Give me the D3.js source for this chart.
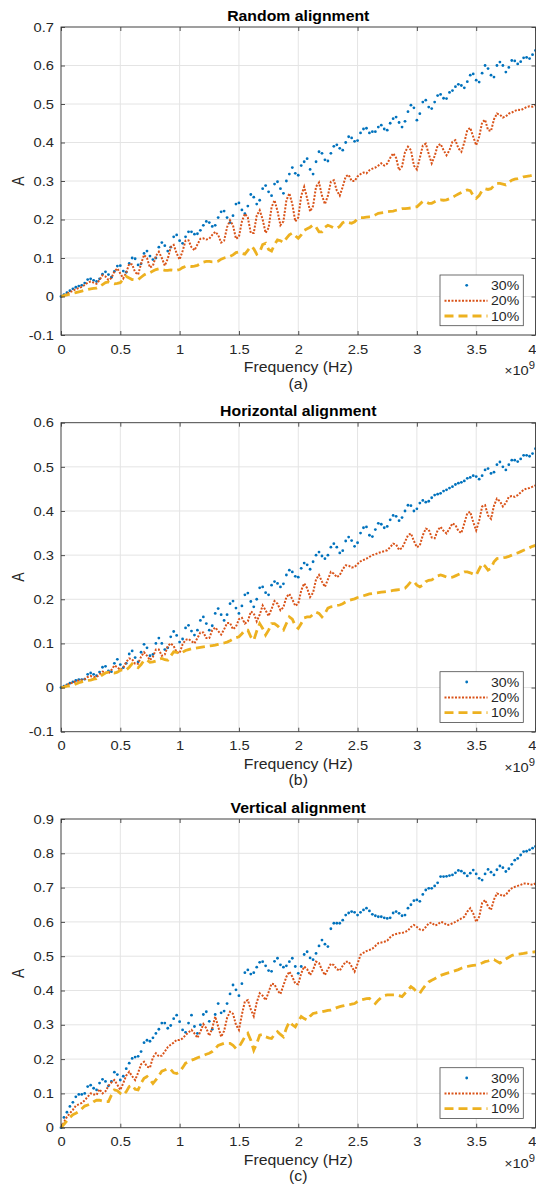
<!DOCTYPE html>
<html><head><meta charset="utf-8">
<script src="https://cdn.jsdelivr.net/npm/d3@7"></script>
<style>body{margin:0;background:#fff}svg{display:block}text{font-family:"Liberation Sans",Arial,Helvetica,sans-serif}</style>
</head><body><svg id="chart" width="536" height="1186"></svg>
<script>
// ---- data (frequency in units of 1e9 Hz, sampled every freqStep) ----
const freqStep = 0.025;
const xTicks = [0,0.5,1,1.5,2,2.5,3,3.5,4];
const yTicksA = [-0.1,0,0.1,0.2,0.3,0.4,0.5,0.6,0.7];
const yTicksB = [-0.1,0,0.1,0.2,0.3,0.4,0.5,0.6];
const yTicksC = [0,0.1,0.2,0.3,0.4,0.5,0.6,0.7,0.8,0.9];
const seriesNames = ["30%","20%","10%"];

const random30 = [0,.005,.010,.015,.020,.024,.027,.029,.035,.044,
.046,.042,.039,.046,.058,.064,.057,.050,.065,.079,
.080,.066,.063,.086,.100,.098,.082,.085,.112,.118,
.105,.096,.100,.128,.140,.132,.118,.128,.155,.160,
.145,.138,.155,.168,.168,.162,.163,.172,.185,.195,
.192,.182,.185,.205,.220,.222,.205,.192,.210,.240,
.243,.225,.215,.235,.265,.258,.240,.250,.280,.288,
.272,.262,.292,.298,.280,.268,.300,.318,.335,.320,
.315,.340,.350,.358,.330,.318,.350,.376,.372,.355,
.352,.372,.390,.394,.385,.380,.400,.415,.412,.403,
.405,.425,.435,.437,.425,.428,.428,.440,.445,.435,
.432,.450,.462,.466,.452,.440,.455,.480,.497,.490,
.458,.475,.505,.510,.492,.488,.505,.522,.525,.515,
.514,.530,.535,.545,.551,.548,.542,.558,.575,.578,
.562,.557,.580,.600,.592,.575,.570,.600,.609,.600,
.583,.595,.613,.612,.604,.610,.620,.621,.618,.628,
.639];
const random20 = [0,.003,.007,.011,.015,.019,.022,.025,.030,.036,
.039,.036,.033,.043,.055,.052,.043,.048,.065,.073,
.060,.047,.062,.085,.083,.063,.057,.085,.108,.100,
.075,.080,.105,.116,.100,.080,.098,.128,.134,.112,
.096,.118,.145,.146,.128,.120,.135,.150,.151,.148,
.150,.160,.168,.160,.140,.145,.180,.198,.185,.150,
.155,.195,.215,.205,.165,.165,.210,.224,.200,.165,
.178,.232,.250,.222,.185,.195,.250,.268,.240,.195,
.205,.262,.285,.255,.221,.235,.285,.296,.262,.240,
.262,.298,.302,.275,.262,.285,.312,.316,.300,.300,
.312,.318,.322,.320,.328,.332,.335,.340,.346,.340,
.345,.360,.372,.360,.328,.338,.375,.389,.380,.340,
.330,.360,.392,.397,.370,.346,.365,.392,.396,.380,
.367,.380,.402,.406,.385,.376,.400,.432,.438,.415,
.393,.415,.452,.459,.432,.430,.460,.475,.472,.465,
.468,.475,.478,.482,.485,.484,.488,.492,.494,.493,
.497];
const random10 = [0,.002,.004,.006,.008,.010,.012,.014,.016,.018,
.020,.021,.022,.026,.031,.036,.038,.035,.033,.034,
.036,.045,.052,.048,.044,.043,.044,.050,.056,.060,
.062,.066,.070,.072,.070,.068,.068,.069,.068,.068,
.070,.075,.078,.079,.078,.079,.081,.085,.089,.091,
.091,.090,.090,.092,.097,.100,.102,.104,.108,.114,
.116,.112,.110,.120,.130,.124,.110,.115,.135,.138,
.122,.118,.135,.147,.145,.140,.151,.160,.165,.158,
.151,.160,.172,.176,.180,.186,.180,.168,.168,.180,
.185,.182,.178,.177,.182,.192,.195,.192,.190,.194,
.202,.205,.205,.206,.207,.208,.212,.216,.217,.218,
.220,.221,.222,.224,.226,.228,.228,.229,.230,.232,
.233,.240,.247,.246,.242,.242,.246,.250,.251,.250,
.251,.254,.258,.262,.266,.270,.274,.277,.275,.262,
.255,.262,.275,.280,.278,.280,.288,.294,.294,.292,
.290,.296,.302,.305,.306,.308,.311,.312,.313,.315,
.316];

const horiz30 = [0,.003,.006,.010,.013,.016,.018,.018,.019,.030,
.033,.030,.027,.035,.046,.048,.038,.036,.055,.064,
.052,.045,.055,.076,.083,.068,.058,.080,.098,.090,
.072,.075,.100,.112,.100,.086,.090,.115,.127,.118,
.103,.110,.135,.141,.128,.119,.130,.152,.160,.145,
.130,.140,.168,.179,.165,.152,.165,.190,.196,.180,
.168,.185,.210,.214,.195,.183,.200,.226,.228,.215,
.210,.232,.240,.236,.228,.235,.255,.266,.262,.252,
.250,.270,.282,.278,.268,.285,.300,.307,.298,.292,
.300,.318,.326,.318,.305,.310,.332,.341,.333,.320,
.328,.350,.362,.364,.345,.342,.358,.372,.370,.362,
.365,.380,.390,.388,.378,.385,.400,.413,.412,.400,
.405,.418,.424,.420,.422,.430,.436,.438,.440,.445,
.448,.452,.455,.460,.463,.465,.468,.474,.476,.480,
.478,.472,.480,.493,.496,.485,.488,.505,.511,.500,
.493,.505,.515,.515,.512,.518,.526,.526,.524,.530,
.541];
const horiz20 = [0,.003,.006,.009,.011,.014,.016,.017,.019,.024,
.026,.024,.024,.030,.036,.034,.032,.040,.050,.046,
.040,.045,.058,.066,.064,.054,.054,.070,.080,.072,
.062,.070,.086,.086,.072,.075,.094,.100,.094,.080,
.078,.098,.108,.110,.105,.100,.112,.125,.125,.112,
.112,.130,.136,.128,.120,.132,.146,.146,.132,.138,
.155,.158,.145,.150,.172,.168,.150,.165,.186,.175,
.162,.178,.196,.190,.175,.182,.205,.212,.200,.185,
.190,.220,.236,.225,.205,.215,.245,.255,.240,.228,
.245,.262,.258,.250,.255,.268,.277,.276,.272,.273,
.280,.286,.289,.292,.296,.300,.302,.305,.307,.309,
.311,.318,.326,.324,.312,.316,.330,.345,.349,.332,
.318,.322,.345,.360,.358,.340,.338,.356,.364,.355,
.349,.360,.372,.368,.355,.350,.372,.395,.398,.375,
.356,.378,.410,.413,.390,.382,.412,.428,.422,.410,
.418,.432,.434,.432,.436,.442,.448,.451,.452,.455,
.458];
const horiz10 = [0,.001,.003,.004,.005,.008,.011,.013,.015,.016,
.017,.019,.020,.024,.029,.033,.035,.034,.033,.035,
.039,.041,.040,.046,.054,.050,.045,.052,.062,.062,
.057,.058,.060,.064,.066,.063,.062,.072,.081,.080,
.077,.080,.084,.086,.088,.089,.090,.091,.092,.093,
.094,.095,.096,.098,.100,.101,.103,.106,.110,.113,
.115,.122,.130,.130,.115,.107,.128,.145,.134,.119,
.130,.145,.145,.140,.133,.130,.145,.160,.155,.140,
.134,.145,.158,.160,.160,.166,.171,.168,.160,.168,
.180,.183,.184,.186,.187,.190,.194,.197,.199,.201,
.204,.206,.208,.210,.212,.213,.214,.215,.216,.217,
.218,.219,.220,.221,.222,.223,.225,.232,.240,.240,
.232,.228,.232,.240,.243,.244,.248,.253,.255,.253,
.250,.249,.250,.253,.256,.259,.262,.262,.260,.257,
.255,.268,.281,.275,.266,.270,.285,.292,.293,.294,
.295,.297,.300,.303,.305,.308,.311,.314,.317,.320,
.322];

const vert30 = [0,.030,.045,.062,.074,.090,.097,.097,.100,.120,
.124,.115,.110,.130,.141,.135,.122,.135,.162,.155,
.139,.150,.172,.188,.202,.206,.208,.222,.248,.255,
.252,.262,.275,.287,.305,.305,.290,.298,.318,.328,
.309,.285,.278,.305,.328,.295,.275,.300,.330,.338,
.310,.287,.330,.362,.335,.340,.362,.390,.416,.402,
.385,.420,.452,.460,.448,.452,.468,.482,.484,.472,
.458,.456,.485,.494,.475,.468,.472,.484,.494,.470,
.450,.470,.505,.513,.495,.490,.508,.530,.547,.535,
.528,.580,.596,.596,.596,.605,.620,.626,.630,.628,
.620,.628,.635,.640,.632,.622,.618,.615,.615,.612,
.610,.612,.626,.630,.625,.618,.620,.640,.650,.662,
.664,.660,.680,.693,.698,.698,.705,.714,.732,.732,
.733,.735,.737,.743,.750,.748,.742,.734,.742,.751,
.740,.727,.722,.740,.753,.745,.737,.752,.763,.758,
.747,.755,.768,.780,.785,.795,.805,.806,.810,.815,
.820];
const vert20 = [0,.016,.032,.042,.052,.064,.068,.072,.080,.090,
.100,.097,.096,.112,.100,.106,.122,.132,.139,.125,
.110,.130,.152,.163,.150,.139,.160,.185,.192,.178,
.175,.205,.217,.208,.210,.222,.235,.242,.248,.256,
.256,.260,.270,.278,.285,.275,.262,.280,.302,.290,
.268,.290,.324,.295,.265,.282,.320,.338,.332,.300,
.285,.330,.368,.372,.345,.325,.365,.392,.385,.372,
.395,.420,.418,.400,.390,.415,.440,.455,.440,.420,
.418,.450,.470,.462,.445,.460,.484,.480,.460,.445,
.462,.478,.474,.462,.458,.472,.484,.484,.470,.455,
.478,.504,.510,.515,.518,.522,.530,.538,.540,.542,
.545,.555,.562,.565,.567,.568,.570,.575,.585,.591,
.585,.578,.576,.585,.596,.598,.590,.592,.600,.598,
.591,.592,.596,.600,.605,.610,.615,.630,.640,.625,
.600,.615,.655,.664,.645,.635,.665,.683,.680,.675,
.679,.690,.698,.702,.705,.708,.712,.712,.710,.708,
.712];
const vert10 = [0,.010,.020,.030,.038,.042,.047,.055,.063,.066,
.070,.076,.080,.080,.078,.076,.076,.095,.110,.108,
.100,.095,.105,.120,.124,.112,.110,.130,.144,.149,
.140,.129,.139,.152,.165,.168,.173,.170,.160,.158,
.163,.175,.188,.192,.197,.200,.204,.207,.210,.214,
.217,.222,.230,.240,.243,.246,.246,.246,.240,.231,
.235,.250,.265,.275,.255,.226,.245,.270,.272,.265,
.262,.260,.272,.280,.272,.265,.290,.309,.300,.294,
.310,.324,.318,.314,.325,.333,.335,.337,.338,.340,
.342,.343,.346,.350,.353,.355,.357,.358,.360,.362,
.368,.372,.374,.376,.377,.370,.362,.372,.380,.385,
.387,.387,.387,.387,.385,.382,.392,.401,.411,.405,
.395,.392,.405,.416,.425,.430,.434,.440,.444,.447,
.450,.452,.455,.458,.461,.465,.468,.470,.472,.473,
.474,.477,.480,.484,.486,.490,.490,.485,.480,.486,
.492,.497,.502,.505,.506,.507,.508,.510,.511,.512,
.513];

// ---- layout / style ----
const panels = [
  {title:"Random alignment",     caption:"(a)", top:27,    bottom:335,    yDomain:[-0.1,0.7], yTicks:yTicksA, series:[random30,random20,random10]},
  {title:"Horizontal alignment", caption:"(b)", top:422.7, bottom:731.7,  yDomain:[-0.1,0.6], yTicks:yTicksB, series:[horiz30,horiz20,horiz10]},
  {title:"Vertical alignment",   caption:"(c)", top:819,   bottom:1127.7, yDomain:[0,0.9],    yTicks:yTicksC, series:[vert30,vert20,vert10]}
];
const plotLeft = 61, plotRight = 535.5;
const colors = ["#0072BD","#D95319","#EDB120"];
const SX = 1.13;            // horizontal text stretch of the reference
const axisColor = "#262626";
const tickFont = 13;
const svg = d3.select("#chart");

function stretchText(sel){
  sel.attr("transform", function(){
    const x = +(this.getAttribute("x") || 0);
    return `translate(${x},0) scale(${SX},1) translate(${-x},0)`;
  });
}
function label(g, x, y, str, size, opts={}){
  return g.append("text")
    .attr("transform", `translate(${x},${y}) scale(${SX},1)` + (opts.rotate ? ` rotate(${opts.rotate})` : ""))
    .attr("text-anchor", opts.anchor || "middle")
    .attr("font-size", size)
    .attr("font-weight", opts.bold ? "bold" : "normal")
    .attr("fill", opts.fill || axisColor)
    .text(str);
}
const yFmt = d => Math.abs(d) < 1e-9 ? "0" : d.toFixed(1);

panels.forEach(p => {
  const x = d3.scaleLinear().domain([0,4]).range([plotLeft, plotRight]);
  const y = d3.scaleLinear().domain(p.yDomain).range([p.bottom, p.top]);
  const g = svg.append("g");

  // grid
  g.append("g").selectAll("line").data(xTicks).join("line")
    .attr("x1", d => x(d)).attr("x2", d => x(d)).attr("y1", p.top).attr("y2", p.bottom)
    .attr("stroke", "#e4e4e4").attr("stroke-width", 1);
  g.append("g").selectAll("line").data(p.yTicks).join("line")
    .attr("x1", plotLeft).attr("x2", plotRight).attr("y1", d => y(d)).attr("y2", d => y(d))
    .attr("stroke", "#e4e4e4").attr("stroke-width", 1);

  const fx = (d,i) => x(i * freqStep);
  // 30% : dots
  g.append("g").selectAll("circle").data(p.series[0]).join("circle")
    .attr("cx", fx).attr("cy", d => y(d)).attr("r", 1.4).attr("fill", colors[0]);
  // 20% : dotted line
  g.append("path").datum(p.series[1])
    .attr("d", d3.line().x(fx).y(d => y(d)))
    .attr("fill","none").attr("stroke", colors[1]).attr("stroke-width", 2)
    .attr("stroke-dasharray", "2,1.5");
  // 10% : dashed line
  g.append("path").datum(p.series[2])
    .attr("d", d3.line().x(fx).y(d => y(d)))
    .attr("fill","none").attr("stroke", colors[2]).attr("stroke-width", 2.8)
    .attr("stroke-dasharray", "9,5");

  // axes
  const axB = g.append("g").attr("transform", `translate(0,${p.bottom})`)
    .call(d3.axisBottom(x).tickValues(xTicks).tickFormat(d3.format("~g")).tickSizeInner(-4).tickSizeOuter(0).tickPadding(9.3));
  const axT = g.append("g").attr("transform", `translate(0,${p.top})`)
    .call(d3.axisTop(x).tickValues(xTicks).tickFormat("").tickSizeInner(-4).tickSizeOuter(0));
  const axL = g.append("g").attr("transform", `translate(${plotLeft},0)`)
    .call(d3.axisLeft(y).tickValues(p.yTicks).tickFormat(yFmt).tickSizeInner(-4).tickSizeOuter(0).tickPadding(7));
  const axR = g.append("g").attr("transform", `translate(${plotRight},0)`)
    .call(d3.axisRight(y).tickValues(p.yTicks).tickFormat("").tickSizeInner(-4).tickSizeOuter(0));
  [axB, axT, axL, axR].forEach(a => {
    a.select(".domain").remove();
    a.selectAll(".tick line").attr("stroke", axisColor).attr("stroke-width", 0.8);
    a.selectAll("text").attr("font-size", tickFont).attr("fill", axisColor)
      .attr("font-family", '"Liberation Sans",Arial,Helvetica,sans-serif');
  });
  // keep the last x tick label ("4") inside the picture edge
  axB.selectAll(".tick text").filter(d => d === 4).attr("text-anchor", "end").attr("x", 536 - plotRight);
  stretchText(axB.selectAll("text"));
  stretchText(axL.selectAll("text"));

  g.append("rect").attr("x", plotLeft).attr("y", p.top)
    .attr("width", plotRight - plotLeft).attr("height", p.bottom - p.top)
    .attr("fill", "none").attr("stroke", "#3c3c3c").attr("stroke-width", 0.9);

  // texts
  label(g, (plotLeft + plotRight) / 2, p.top - 6.3, p.title, 14, {bold:true, fill:"#000"});
  label(g, (plotLeft + plotRight) / 2, p.bottom + 37.3, "Frequency (Hz)", 14);
  label(g, (plotLeft + plotRight) / 2, p.bottom + 53.5, p.caption, 14);
  label(g, 23.5, (p.top + p.bottom) / 2, "A", 14, {rotate:-90});
  const ex = label(g, 535, p.bottom + 40, "", 13, {anchor:"end"});
  ex.append("tspan").attr("font-size", 12).text("\u00d7");
  ex.append("tspan").text("10");
  ex.append("tspan").attr("font-size", 10).attr("dy", -6).text("9");

  // legend
  const lx = 440, lw = 83.3, ly = p.bottom - 60, lh = 50.7;
  const lg = g.append("g");
  lg.append("rect").attr("x", lx).attr("y", ly).attr("width", lw).attr("height", lh)
    .attr("fill", "#fff").attr("stroke", "#4a4a4a").attr("stroke-width", 0.8);
  const rows = [10.3, 25.7, 41];
  seriesNames.forEach((name, i) => {
    const ry = ly + rows[i];
    if (i === 0) {
      lg.append("circle").attr("cx", 466.7).attr("cy", ry).attr("r", 1.4).attr("fill", colors[0]);
    } else {
      lg.append("line").attr("x1", 444.5).attr("x2", 487.5).attr("y1", ry).attr("y2", ry)
        .attr("stroke", colors[i])
        .attr("stroke-width", i === 1 ? 2 : 2.8)
        .attr("stroke-dasharray", i === 1 ? "2,1.5" : "9,5");
    }
    label(lg, 491, ry + 4.5, name, 12.5, {anchor:"start"});
  });
});
</script>
</body></html>
